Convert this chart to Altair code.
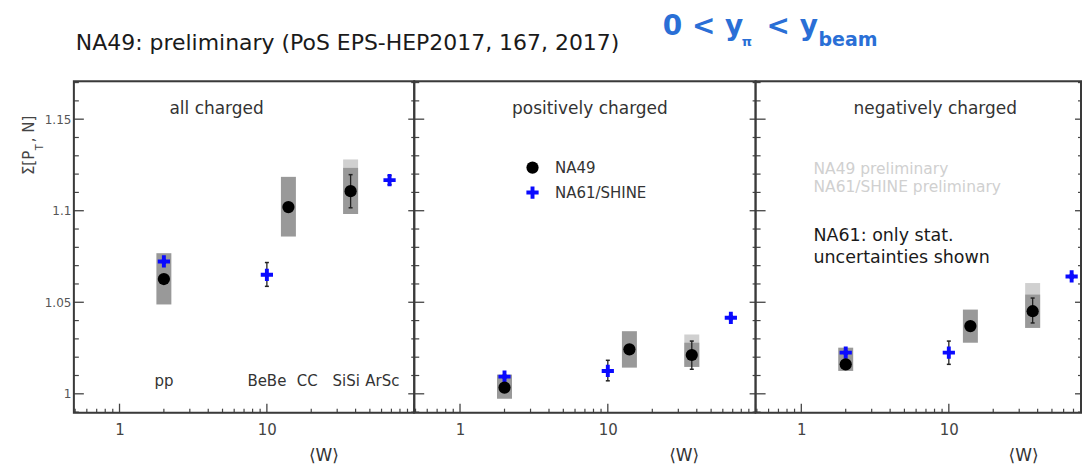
import altair as alt
import pandas as pd

FONT = "DejaVu Sans"

# ---------------- data ----------------
Y_DOMAIN = [0.9897, 1.1707]
EXPS = ["NA61/SHINE", "NA49"]

W_NA49 = [2, 14, 37]   # pp, CC, SiSi
W_NA61 = [2, 10, 68]   # pp, BeBe, ArSc

# all charged
ALL_NA49 = [1.0627, 1.1020, 1.1107]
ALL_NA49_SYS_LO = [1.0488, 1.0859, 1.0982]
ALL_NA49_SYS_HI = [1.0768, 1.1185, 1.1234]
ALL_SISI_SYS2 = [1.0982, 1.1280]
ALL_SISI_STAT = [1.1016, 1.1197]
ALL_NA61 = [1.0723, 1.0650, 1.1167]
ALL_NA61_LO = [1.0713, 1.0587, 1.1142]
ALL_NA61_HI = [1.0733, 1.0717, 1.1192]

# positively charged
POS_NA49 = [1.0034, 1.0243, 1.0212]
POS_NA49_SYS_LO = [0.9973, 1.0143, 1.0147]
POS_NA49_SYS_HI = [1.0105, 1.0342, 1.0279]
POS_SISI_SYS2 = [1.0147, 1.0324]
POS_SISI_STAT = [1.0134, 1.0288]
POS_NA61 = [1.0094, 1.0125, 1.0415]
POS_NA61_LO = [1.0086, 1.0071, 1.0405]
POS_NA61_HI = [1.0102, 1.0183, 1.0425]

# negatively charged
NEG_NA49 = [1.0161, 1.0370, 1.0451]
NEG_NA49_SYS_LO = [1.0125, 1.0279, 1.0360]
NEG_NA49_SYS_HI = [1.0252, 1.0460, 1.0542]
NEG_SISI_SYS2 = [1.0360, 1.0605]
NEG_SISI_STAT = [1.0387, 1.0523]
NEG_NA61 = [1.0225, 1.0225, 1.0641]
NEG_NA61_LO = [1.0217, 1.0161, 1.0631]
NEG_NA61_HI = [1.0233, 1.0288, 1.0651]

SYS_LABELS = ["pp", "BeBe", "CC", "SiSi", "ArSc"]
SYS_LABEL_W = [2, 10, 18.8, 34.5, 60.8]
SYS_LABEL_V = [1.0070, 1.0070, 1.0070, 1.0070, 1.0070]

PANEL_TITLES = ["all charged", "positively charged", "negatively charged"]

X_LABEL_TICKS = [1, 10]
X_MAJOR_TICKS = [1, 10, 100]
X_MINOR_TICKS = [0.5, 0.6, 0.7, 0.8, 0.9, 2, 3, 4, 5, 6, 7, 8, 9,
                 20, 30, 40, 50, 60, 70, 80, 90]
Y_MAJOR = [1.0, 1.05, 1.1, 1.15]
Y_MINOR = [0.99, 1.01, 1.02, 1.03, 1.04, 1.06, 1.07, 1.08, 1.09,
           1.11, 1.12, 1.13, 1.14, 1.16, 1.17]

CROSS = "M-1,-0.32H-0.32V-1H0.32V-0.32H1V0.32H0.32V1H-0.32V0.32H-1Z"
H = 332
TICK_COLOR = "#444444"
FRAME_COLOR = "#3a3a3a"
BOX_DARK = "#999999"
BOX_LIGHT = "#d0d0d0"


def text_layer(txt, x, y, size, color="#333333", weight="normal",
               align="left", baseline="middle", angle=0):
    return alt.Chart(pd.DataFrame({"t": [txt]})).mark_text(
        font=FONT, fontSize=size, color=color, fontWeight=weight,
        align=align, baseline=baseline, angle=angle
    ).encode(text="t:N", x=alt.value(x), y=alt.value(y))


def build_panel(width, xmax, na49, sys_lo, sys_hi, sys2, stat, na61, lo61, hi61,
                show_y, legend, wtitle_x, extra):
    xs = alt.Scale(type="log", domain=[0.49, xmax], nice=False)
    ys = alt.Scale(domain=Y_DOMAIN, nice=False, zero=False)
    xaxis = alt.Axis(values=X_LABEL_TICKS, format="~g", ticks=False, domain=False,
                     grid=False, labelFont=FONT, labelFontSize=15, labelColor="#444444",
                     labelPadding=10, title="⟨W⟩", titleX=wtitle_x, titleY=43,
                     titleFont=FONT, titleFontSize=17, titleFontWeight="normal",
                     titleColor="#333333", titleBaseline="middle", titleAlign="center")
    if show_y:
        yaxis = alt.Axis(values=Y_MAJOR, format="~g", ticks=False, domain=False,
                         grid=False, labelFont=FONT, labelFontSize=12,
                         labelColor="#555555", labelPadding=3, title=None)
    else:
        yaxis = None
    X = alt.X("w:Q", scale=xs, axis=xaxis)
    Y = alt.Y("v:Q", scale=ys, axis=yaxis)

    layers = []
    # systematic boxes
    d2 = pd.DataFrame({"w": [W_NA49[2]], "v": [sys2[0]], "v2": [sys2[1]]})
    layers.append(alt.Chart(d2).mark_rule(strokeWidth=15, strokeCap="butt", color=BOX_LIGHT)
                  .encode(x=X, y=Y, y2=alt.Y2("v2")))
    d1 = pd.DataFrame({"w": W_NA49, "v": sys_lo, "v2": sys_hi})
    layers.append(alt.Chart(d1).mark_rule(strokeWidth=15, strokeCap="butt", color=BOX_DARK)
                  .encode(x=X, y=Y, y2=alt.Y2("v2")))
    # error bars
    de = pd.DataFrame({"w": W_NA61 + [W_NA49[2]], "v": lo61 + [stat[0]], "v2": hi61 + [stat[1]]})
    layers.append(alt.Chart(de).mark_rule(strokeWidth=1.3, color="#222222")
                  .encode(x=X, y=Y, y2=alt.Y2("v2")))
    dc = pd.DataFrame({"w": W_NA61 + [W_NA49[2]] + W_NA61 + [W_NA49[2]],
                       "v": lo61 + [stat[0]] + hi61 + [stat[1]]})
    layers.append(alt.Chart(dc).mark_tick(orient="horizontal", size=4, thickness=1.5,
                                          color="#222222", opacity=1)
                  .encode(x=X, y=Y))
    # points
    dp = pd.DataFrame({"w": W_NA61 + W_NA49, "v": na61 + na49,
                       "exp": [EXPS[0]] * 3 + [EXPS[1]] * 3})
    layers.append(alt.Chart(dp).mark_point(filled=True, opacity=1, size=150, strokeWidth=0)
                  .encode(x=X, y=Y,
                          color=alt.Color("exp:N", scale=alt.Scale(domain=EXPS, range=["#0a0aff", "#000000"]),
                                          legend=legend),
                          shape=alt.Shape("exp:N", scale=alt.Scale(domain=EXPS, range=[CROSS, "circle"]),
                                          legend=legend),
                          order=alt.Order("exp:N", sort="descending")))
    # frame ticks
    xmin_t = [t for t in X_MINOR_TICKS if t <= xmax]
    xmaj_t = [t for t in X_MAJOR_TICKS if t <= xmax]
    layers.append(alt.Chart(pd.DataFrame({"w": xmaj_t})).mark_rule(color=TICK_COLOR, strokeWidth=1.3)
                  .encode(x=X, y=alt.value(H), y2=alt.value(H - 9)))
    layers.append(alt.Chart(pd.DataFrame({"w": xmin_t})).mark_rule(color=TICK_COLOR, strokeWidth=1.2)
                  .encode(x=X, y=alt.value(H), y2=alt.value(H - 4)))
    layers.append(alt.Chart(pd.DataFrame({"v": Y_MAJOR})).mark_rule(color=TICK_COLOR, strokeWidth=1.3)
                  .encode(y=Y, x=alt.value(0), x2=alt.value(10)))
    layers.append(alt.Chart(pd.DataFrame({"v": Y_MINOR})).mark_rule(color=TICK_COLOR, strokeWidth=1.2)
                  .encode(y=Y, x=alt.value(0), x2=alt.value(5)))
    layers.append(alt.Chart(pd.DataFrame({"v": Y_MAJOR})).mark_rule(color=TICK_COLOR, strokeWidth=1.3)
                  .encode(y=Y, x=alt.value(width - 6), x2=alt.value(width)))
    layers.append(alt.Chart(pd.DataFrame({"v": Y_MINOR})).mark_rule(color=TICK_COLOR, strokeWidth=1.2)
                  .encode(y=Y, x=alt.value(width - 3), x2=alt.value(width)))
    # frame
    layers.append(alt.Chart(pd.DataFrame({"f": [0]})).mark_rect(
        filled=False, stroke=FRAME_COLOR, strokeWidth=2)
        .encode(x=alt.value(0), x2=alt.value(width), y=alt.value(0), y2=alt.value(H)))
    layers += extra(X, Y)
    return alt.layer(*layers).properties(width=width, height=H)


def extra_all(X, Y):
    out = []
    # anchor for page origin (invisible)
    out.append(alt.Chart(pd.DataFrame({"a": [0]})).mark_rule(opacity=0)
               .encode(x=alt.value(-73), x2=alt.value(-72), y=alt.value(-80), y2=alt.value(-79)))
    lab = pd.DataFrame({"w": SYS_LABEL_W, "v": SYS_LABEL_V, "t": SYS_LABELS})
    out.append(alt.Chart(lab).mark_text(font=FONT, fontSize=15, color="#333333", baseline="middle")
               .encode(x=X, y=Y, text="t:N"))
    out.append(text_layer(PANEL_TITLES[0], 143, 28, 17, align="center"))
    # page title
    out.append(text_layer("NA49: preliminary (PoS EPS-HEP2017, 167, 2017)", 2, -38, 22, color="#1a1a1a"))
    blue = "#2a6fd6"
    out.append(text_layer("0 < y", 590, -46, 28, color=blue, weight="bold", baseline="alphabetic"))
    out.append(text_layer("π", 669, -35, 13, color=blue, weight="bold", baseline="alphabetic"))
    out.append(text_layer("< y", 694, -46, 28, color=blue, weight="bold", baseline="alphabetic"))
    out.append(text_layer("beam", 746, -35, 19, color=blue, weight="bold", baseline="alphabetic"))
    # y axis title
    out.append(text_layer("Σ[P", -40, 94, 15, color="#444444", baseline="alphabetic", angle=270))
    out.append(text_layer("T", -31, 69, 10, color="#444444", baseline="alphabetic", angle=270))
    out.append(text_layer(", N]", -40, 61, 15, color="#444444", baseline="alphabetic", angle=270))
    return out


def extra_pos(X, Y):
    return [text_layer(PANEL_TITLES[1], 176, 28, 17, align="center")]


def extra_neg(X, Y):
    return [
        text_layer(PANEL_TITLES[2], 180, 28, 17, align="center"),
        text_layer("NA49 preliminary", 58, 88, 15.5, color="#d0d0d0"),
        text_layer("NA61/SHINE preliminary", 58, 106, 15.5, color="#d0d0d0"),
        text_layer("NA61: only stat.", 58, 155, 17.5, color="#1a1a1a"),
        text_layer("uncertainties shown", 58, 177, 17.5, color="#1a1a1a"),
    ]


legend_pos = alt.Legend(orient="none", legendX=111, legendY=79, title=None, padding=0,
                        symbolSize=150, labelFont=FONT, labelFontSize=15, labelColor="#333333",
                        rowPadding=9, labelOffset=15, symbolStrokeWidth=0,
                        values=["NA49", "NA61/SHINE"])

p1 = build_panel(341, 100, ALL_NA49, ALL_NA49_SYS_LO, ALL_NA49_SYS_HI, ALL_SISI_SYS2, ALL_SISI_STAT,
                 ALL_NA61, ALL_NA61_LO, ALL_NA61_HI, True, None, 250, extra_all)
p2 = build_panel(342, 100, POS_NA49, POS_NA49_SYS_LO, POS_NA49_SYS_HI, POS_SISI_SYS2, POS_SISI_STAT,
                 POS_NA61, POS_NA61_LO, POS_NA61_HI, False, legend_pos, 270, extra_pos)
p3 = build_panel(326, 78.7, NEG_NA49, NEG_NA49_SYS_LO, NEG_NA49_SYS_HI, NEG_SISI_SYS2, NEG_SISI_STAT,
                 NEG_NA61, NEG_NA61_LO, NEG_NA61_HI, False, None, 268, extra_neg)

chart = alt.hconcat(p1, p2, p3, spacing=0, bounds="flush").resolve_scale(
    x="independent", y="independent", color="independent", shape="independent"
).resolve_legend(color="independent", shape="independent").properties(
    padding=0
).configure_view(strokeWidth=0).configure(background="white")

chart.save("out.html", embed_options={"renderer": "svg", "actions": False})
